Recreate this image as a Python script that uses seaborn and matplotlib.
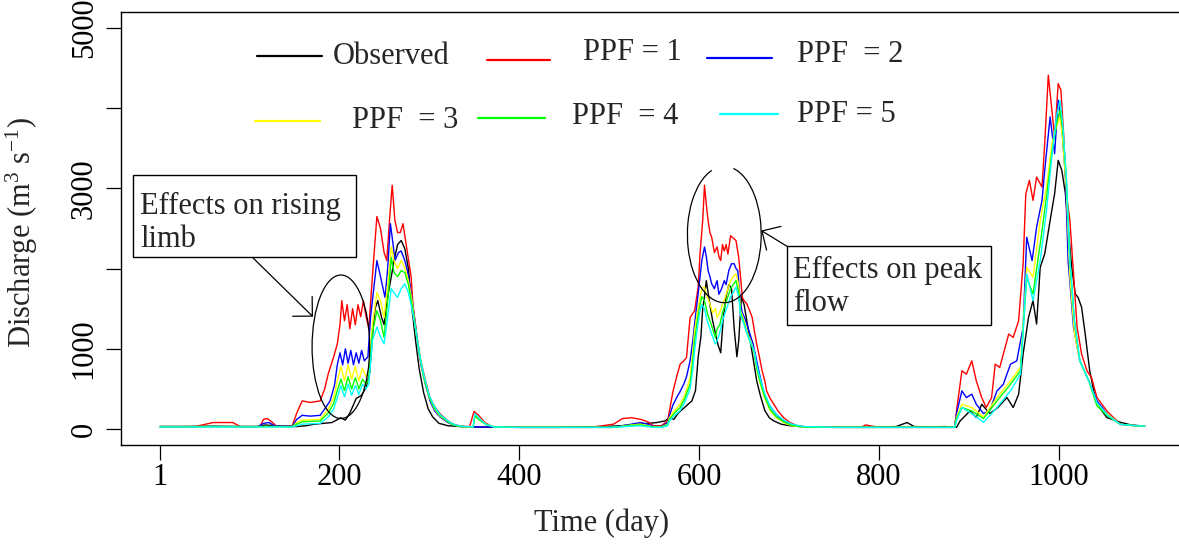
import matplotlib
matplotlib.use("Agg")
import matplotlib.pyplot as plt
import seaborn as sns
import pandas as pd
from matplotlib.patches import Ellipse, Arc, Rectangle
from matplotlib.lines import Line2D

# ---------------- data ----------------
SERIES = ["Observed", "PPF = 1", "PPF  = 2", "PPF  = 3", "PPF  = 4", "PPF = 5"]
COLORS = ["#000000", "#ff0000", "#0000ff", "#ffff00", "#00ff00", "#00ffff"]

OBS_DAY = [1, 30, 59, 89, 109, 118, 128, 143, 153, 163,
           173, 183, 192, 202, 207, 212, 219, 225, 230, 234,
           237, 240, 243, 247, 250, 254, 258, 261, 265, 269,
           273, 277, 281, 285, 289, 294, 299, 304, 311, 321,
           335, 355, 395, 444, 493, 513, 533, 553, 562, 567,
           572, 577, 582, 587, 592, 596, 599, 602, 604, 606,
           608, 610, 612, 615, 618, 621, 624, 627, 630, 633,
           636, 639, 642, 644, 647, 650, 653, 656, 660, 664,
           668, 673, 678, 683, 691, 701, 720, 750, 789, 819,
           831, 839, 858, 873, 886, 890, 901, 908, 914, 923,
           932, 942, 949, 955, 960, 966, 971, 975, 979, 984,
           990, 995, 999, 1003, 1007, 1010, 1014, 1018, 1021, 1025,
           1029, 1034, 1040, 1045, 1053, 1064, 1068, 1080, 1095]
OBS_Q = [30, 30, 35, 30, 30, 50, 40, 30, 30, 40,
         60, 70, 80, 140, 110, 200, 380, 420, 520, 700,
         1150, 1500, 1600, 1400, 1300, 1650, 1900, 2100, 2300, 2350,
         2250, 2000, 1500, 1100, 750, 450, 250, 150, 70, 40,
         30, 25, 20, 20, 30, 40, 60, 80, 100, 140,
         120, 200, 250, 300, 350, 480, 900, 1150, 1500, 1650,
         1850, 1700, 1550, 1350, 1200, 1050, 950, 1400, 1650, 1800,
         1750, 1250, 900, 1100, 1650, 1550, 1350, 1150, 880, 600,
         420, 230, 140, 100, 60, 40, 25, 20, 20, 30,
         80, 30, 25, 30, 20, 100, 225, 142, 308, 192,
         267, 392, 267, 433, 933, 1392, 1600, 1308, 2017, 2183,
         2600, 2933, 3350, 3225, 2933, 2517, 2017, 1683, 1642, 1517,
         1183, 725, 392, 267, 142, 100, 83, 50, 35]

RED_DAY = [1, 40, 60, 82, 90, 112, 116, 120, 124, 130,
           148, 153, 159, 168, 179, 184, 188, 194, 198, 201,
           203, 206, 209, 212, 215, 218, 221, 224, 227, 230,
           233, 237, 242, 246, 250, 253, 256, 259, 262, 265,
           268, 271, 276, 280, 282, 286, 290, 296, 301, 306,
           312, 321, 327, 335, 345, 350, 355, 362, 370, 400,
           480, 505, 515, 525, 535, 543, 549, 558, 565, 567,
           571, 575, 579, 583, 586, 590, 595, 599, 601, 604,
           606, 608, 610, 612, 614, 617, 620, 622, 624, 626,
           628, 630, 632, 635, 638, 641, 644, 646, 648, 650,
           653, 656, 659, 661, 664, 667, 670, 673, 675, 679,
           683, 688, 694, 701, 709, 720, 780, 785, 800, 868,
           884, 886, 892, 897, 903, 908, 914, 919, 925, 929,
           934, 940, 944, 949, 955, 960, 963, 967, 971, 975,
           981, 984, 988, 992, 995, 999, 1002, 1005, 1008, 1012,
           1016, 1020, 1025, 1031, 1036, 1042, 1053, 1068, 1080, 1095]
RED_Q = [30, 30, 80, 80, 30, 30, 120, 130, 100, 40,
         40, 200, 350, 330, 350, 500, 690, 900, 1060, 1300,
         1600, 1350, 1550, 1250, 1500, 1300, 1550, 1400, 1600, 1400,
         1250, 1900, 2650, 2500, 2200, 2100, 2600, 3040, 2600, 2450,
         2450, 2560, 2190, 1900, 1560, 1200, 890, 600, 390, 280,
         190, 100, 60, 35, 30, 220, 170, 80, 30, 20,
         20, 60, 130, 140, 120, 90, 40, 40, 100, 225,
         470, 650, 810, 850, 890, 1390, 1475, 1770, 2180, 2600,
         3040, 2800, 2600, 2450, 2390, 2200, 2270, 2150, 2100, 2300,
         2220, 2300, 2180, 2410, 2380, 2350, 2140, 1900, 1640, 1600,
         1560, 1480, 1390, 1250, 1060, 900, 725, 600, 475, 380,
         310, 220, 140, 80, 40, 25, 20, 50, 20, 20,
         20, 225, 725, 683, 850, 600, 392, 267, 392, 808,
         767, 1017, 1183, 1142, 1350, 2058, 2933, 3100, 2850, 3142,
         3017, 3558, 4412, 3975, 3642, 4308, 4225, 3683, 2933, 2600,
         1933, 1267, 933, 725, 642, 392, 225, 58, 45, 35]

BLUE_DAY = [1, 110, 116, 122, 128, 148, 153, 159, 168, 179,
            184, 190, 195, 198, 201, 204, 207, 210, 213, 216,
            219, 222, 225, 228, 232, 235, 239, 242, 246, 251,
            254, 257, 260, 262, 266, 269, 273, 276, 280, 283,
            287, 291, 296, 301, 306, 312, 321, 327, 335, 350,
            400, 505, 525, 535, 543, 549, 558, 565, 567, 571,
            575, 579, 583, 586, 590, 593, 595, 598, 601, 603,
            606, 608, 610, 612, 614, 617, 620, 622, 625, 628,
            630, 633, 636, 639, 641, 643, 646, 648, 650, 653,
            656, 660, 664, 668, 672, 675, 681, 687, 694, 701,
            711, 750, 868, 884, 886, 892, 897, 903, 908, 916,
            923, 931, 938, 946, 953, 960, 964, 970, 975, 981,
            984, 990, 995, 999, 1003, 1007, 1010, 1016, 1023, 1033,
            1042, 1053, 1068, 1080, 1095]
BLUE_Q = [30, 30, 70, 80, 40, 35, 120, 170, 160, 170,
          250, 350, 550, 800, 950, 800, 1000, 820, 980, 800,
          950, 820, 980, 850, 900, 1400, 1800, 2100, 1900, 1640,
          2000, 2560, 2300, 2100, 2200, 2220, 2100, 1970, 1700, 1450,
          1100, 800, 550, 350, 230, 150, 80, 50, 30, 25,
          20, 20, 60, 80, 60, 30, 30, 80, 165, 300,
          390, 470, 560, 650, 850, 1100, 1310, 1600, 1890, 2100,
          2270, 2150, 1975, 1900, 1810, 1750, 1850, 1680, 1750, 1850,
          1800, 1975, 2060, 2060, 2000, 1975, 1560, 1450, 1400, 1310,
          1200, 1060, 850, 640, 450, 350, 250, 165, 100, 60,
          30, 20, 20, 20, 192, 475, 392, 433, 308, 192,
          233, 475, 558, 808, 850, 1267, 2392, 2100, 2517, 2850,
          3225, 3892, 3433, 4100, 3767, 3142, 2100, 1267, 850, 600,
          350, 192, 58, 45, 35]

# shared day grid for PPF = 3, 4, 5
LOW_DAY = [1, 148, 153, 159, 179, 188, 194, 198, 202, 206,
           210, 214, 218, 222, 226, 230, 233, 237, 242, 246,
           250, 254, 258, 261, 265, 269, 273, 277, 281, 285,
           289, 294, 300, 306, 312, 321, 327, 335,
           349, 351, 356, 363, 372, 400, 505, 525, 535,
           549, 558, 565, 567, 572, 579, 584, 590, 593, 595,
           598, 601, 603, 606, 609, 612, 615, 618, 620, 623,
           626, 629, 632, 635, 638, 641, 644, 646, 650, 653,
           657, 661, 664, 668, 673, 679, 686, 694, 703, 716,
           750, 868, 884,
           886, 892, 903, 916, 931, 946, 957, 964, 971, 979,
           986, 992, 997, 1001, 1004, 1008, 1012, 1017, 1023, 1033,
           1042, 1053, 1068, 1080, 1095]
YEL_Q = [30, 30, 80, 110, 120, 250, 390, 600, 780, 600,
         800, 620, 780, 600, 760, 650, 700, 1300, 1700, 1600,
         1390, 1800, 2270, 2100, 2000, 2100, 2010, 1850, 1600, 1250,
         950, 650, 400, 250, 160, 90, 50, 30,
         25, 170, 120, 60, 25, 20, 20, 50, 60,
         25, 25, 60, 140, 220, 310, 420, 640, 950, 1225,
         1450, 1640, 1750, 1770, 1650, 1560, 1450, 1500, 1390, 1450,
         1550, 1640, 1750, 1850, 1900, 1935, 1800, 1475, 1350, 1225,
         1100, 975, 750, 560, 380, 225, 140, 80, 40, 25,
         20, 20, 20,
         150, 308, 267, 150, 392, 600, 767, 2017, 1892, 2600,
         3017, 3558, 3767, 3892, 3600, 3000, 1900, 1200, 850, 600,
         308, 192, 58, 45, 35]
GRN_Q = [30, 30, 60, 90, 100, 200, 320, 480, 620, 480,
         650, 500, 640, 500, 620, 560, 620, 1200, 1475, 1350,
         1140, 1600, 2140, 1950, 1900, 1975, 1950, 1800, 1550, 1250,
         950, 650, 400, 260, 170, 90, 50, 30,
         25, 160, 110, 55, 25, 20, 20, 45, 50,
         25, 25, 50, 120, 190, 270, 380, 560, 850, 1100,
         1350, 1550, 1650, 1600, 1450, 1350, 1250, 1140, 1250, 1300,
         1450, 1550, 1650, 1750, 1800, 1850, 1700, 1450, 1320, 1200,
         1080, 960, 760, 580, 400, 240, 150, 90, 45, 25,
         20, 20, 20,
         130, 267, 225, 130, 350, 558, 725, 1892, 1683, 2308,
         2900, 3450, 3800, 3975, 3750, 3142, 2100, 1350, 850, 600,
         288, 170, 58, 45, 35]
CYN_Q = [25, 25, 40, 60, 70, 150, 250, 390, 540, 400,
         560, 420, 540, 430, 560, 500, 560, 1100, 1270, 1150,
         1060, 1400, 1750, 1700, 1640, 1750, 1810, 1700, 1500, 1250,
         950, 680, 420, 280, 180, 100, 60, 35,
         25, 190, 130, 60, 25, 20, 20, 35, 40,
         20, 20, 40, 100, 160, 230, 330, 500, 750, 980,
         1250, 1475, 1550, 1500, 1350, 1250, 1150, 1060, 1100, 1200,
         1350, 1450, 1550, 1650, 1700, 1770, 1650, 1420, 1300, 1200,
         1080, 980, 800, 620, 440, 280, 180, 110, 60, 30,
         20, 20, 20,
         100, 267, 192, 83, 267, 475, 683, 1933, 1600, 2100,
         2725, 3400, 3900, 4100, 3800, 3142, 2100, 1350, 850, 600,
         330, 180, 58, 45, 35]

X_TICKS = [1, 200, 400, 600, 800, 1000]
Y_TICKS = [0, 1000, 2000, 3000, 4000, 5000]
Y_TICK_LABELS = ["0", "1000", "", "3000", "", "5000"]

# ---------------- layout (pixel positions of the reference) ----------------
W, H = 1179, 544
FS = 22

sns.set_style("ticks")
plt.rcParams["font.family"] = ["Liberation Serif", "DejaVu Serif"]
plt.rcParams["mathtext.fontset"] = "custom"
plt.rcParams["mathtext.rm"] = "Liberation Serif"
plt.rcParams["mathtext.it"] = "Liberation Serif:italic"
plt.rcParams["mathtext.default"] = "regular"

fig = plt.figure(figsize=(W / 100, H / 100), dpi=100)
fig.patch.set_facecolor("white")
ax_l, ax_r, ax_t, ax_b = 120.6, 1184.0, 12.0, 445.0
ax = fig.add_axes([ax_l / W, 1 - ax_b / H, (ax_r - ax_l) / W, (ax_b - ax_t) / H])

frames = []
for name, d, q in [("Observed", OBS_DAY, OBS_Q), ("PPF = 1", RED_DAY, RED_Q),
                   ("PPF  = 2", BLUE_DAY, BLUE_Q), ("PPF  = 3", LOW_DAY, YEL_Q),
                   ("PPF  = 4", LOW_DAY, GRN_Q), ("PPF = 5", LOW_DAY, CYN_Q)]:
    frames.append(pd.DataFrame({"day": d, "q": q, "series": name}))
df = pd.concat(frames, ignore_index=True)

sns.lineplot(data=df, x="day", y="q", hue="series", hue_order=SERIES,
             palette=COLORS, estimator=None, lw=1.0, legend=False, ax=ax)

ax.set_xlim(-42.76, 1138.76)
ax.set_ylim(-200, 5200)
ax.set_xticks(X_TICKS)
ax.set_xticklabels([str(t) for t in X_TICKS])
ax.set_yticks(Y_TICKS)
ax.set_yticklabels(Y_TICK_LABELS, rotation=90, va="center")
ax.tick_params(axis="both", direction="out", length=10.8, width=0.9,
               labelsize=FS, colors="black")
ax.tick_params(axis="x", pad=2)
ax.tick_params(axis="y", pad=5)
for s in ax.spines.values():
    s.set_visible(True)
    s.set_color("black")
    s.set_linewidth(1.0)

ax.set_xlabel("Time (day)", fontsize=FS)
ax.set_ylabel("Discharge (m$^{3}$ s$^{-1}$)", fontsize=FS)
ax.xaxis.set_label_coords((602 - ax_l) / (ax_r - ax_l), (ax_b - 508) / (ax_b - ax_t))
ax.yaxis.set_label_coords((40 - ax_l) / (ax_r - ax_l), 0.49)

# ---------------- annotations ----------------
def axfrac(px, py):
    return (px - ax_l) / (ax_r - ax_l), (ax_b - py) / (ax_b - ax_t)

# ellipses (data coords: center day, center value, width days, height value)
ax.add_patch(Ellipse((202, 1025), 64, 1790, fill=False, ec="black", lw=0.9, zorder=5))
# small gap at the top of the second ellipse (angles are geometric in data units)
ax.add_patch(Arc((628, 2425), 82, 1700, theta1=91.0, theta2=449.3,
                 ec="black", lw=0.9, zorder=5))

# arrows
arrow_style = dict(arrowstyle="->,head_length=0.5,head_width=0.5", lw=0.9,
                   color="black", shrinkA=0, shrinkB=0, mutation_scale=20)
ax.annotate("", xy=(171, 1400), xytext=(104, 2137), arrowprops=arrow_style, zorder=5)
ax.annotate("", xy=(669, 2475), xytext=(700, 2262), arrowprops=arrow_style, zorder=5)

# text boxes: box in reference pixels, text left x and last-line baseline y
BOXES = [((133, 175, 356, 257), (140, 247), "Effects on rising\nlimb"),
         ((787, 246, 991, 325), (793, 311), "Effects on peak\nflow")]
for (x0, y0, x1, y1), (tx, ty), txt in BOXES:
    fx0, fy1 = axfrac(x0, y0)
    fx1, fy0 = axfrac(x1, y1)
    ax.add_patch(Rectangle((fx0, fy0), fx1 - fx0, fy1 - fy0, transform=ax.transAxes,
                           fill=True, fc="white", ec="black", lw=1.0, zorder=6,
                           clip_on=False))
    fx, fy = axfrac(tx, ty)
    ax.text(fx, fy, txt, transform=ax.transAxes, fontsize=FS, ha="left",
            va="baseline", linespacing=1.17, zorder=7)

# manual legend: (line x0, line x1, line y, text x, text y) in reference pixels
LEGEND_POS = [(257, 322, 56, 333, 57), (487, 550, 60, 583, 52), (707, 772, 58, 797, 55),
              (255, 320, 121, 352, 120), (478, 545, 118, 572, 116), (720, 778, 114, 797, 114)]
for (lx0, lx1, ly, tx, ty), lab, col in zip(LEGEND_POS, SERIES, COLORS):
    fig.add_artist(Line2D([lx0 / W, lx1 / W], [1 - ly / H, 1 - ly / H],
                          transform=fig.transFigure, color=col, lw=1.6))
    fig.text(tx / W, 1 - ty / H, lab, fontsize=FS, ha="left", va="center")

fig.savefig("out.png", dpi=100, facecolor="white")
